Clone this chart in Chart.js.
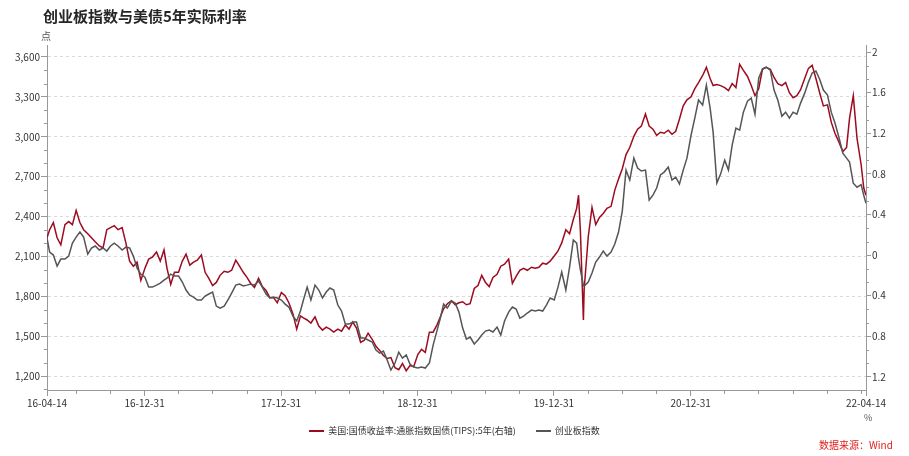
<!DOCTYPE html>
<html>
<head>
<meta charset="utf-8">
<script src="https://cdn.jsdelivr.net/npm/chart.js@4.4.1/dist/chart.umd.min.js"></script>
<style>
  html, body { margin: 0; padding: 0; background: #fff; }
  #wrap { position: relative; width: 909px; height: 456px; font-family: "Noto Sans CJK SC", sans-serif; }
  #chart { position: absolute; left: 0; top: 0; }
  .txt { position: absolute; white-space: nowrap; }
  #title { left: 43px; top: 5px; font-size: 15px; font-weight: bold; color: #262626; }
  #unitL { left: 41px; top: 28px; font-size: 10px; color: #555; }
  #unitR { left: 864px; top: 411px; font-size: 9px; color: #555; }
  #legend { left: 0; width: 909px; top: 424px; font-size: 9px; color: #333; text-align: center; padding-left: 0; }
  #legend span.sw { display: inline-block; width: 15px; height: 2px; vertical-align: middle; margin: 0 4px 1px 0; }
  #legend span.item { margin: 0 10px; }
  #source { left: 819px; top: 437px; font-size: 10px; color: #e0201c; }
</style>
</head>
<body>
<div id="wrap">
  <canvas id="chart" width="909" height="456"></canvas>
  <div class="txt" id="title">创业板指数与美债5年实际利率</div>
  <div class="txt" id="unitL">点</div>
  <div class="txt" id="unitR">%</div>
  <div class="txt" id="legend"></div>
  <div class="txt" id="source">数据来源：Wind</div>
</div>
<script>
// sampling dates (1st / 11th / 21st of each month, plus a couple around the March 2020 spike)
const dates = [
  '2016-04-14','2016-04-21','2016-05-01','2016-05-11','2016-05-21','2016-06-01','2016-06-11','2016-06-21',
  '2016-07-01','2016-07-11','2016-07-21','2016-08-01','2016-08-11','2016-08-21','2016-09-01','2016-09-11','2016-09-21',
  '2016-10-01','2016-10-11','2016-10-21','2016-11-01','2016-11-11','2016-11-21','2016-12-01','2016-12-11','2016-12-21',
  '2017-01-01','2017-01-11','2017-01-21','2017-02-01','2017-02-11','2017-02-21','2017-03-01','2017-03-11','2017-03-21',
  '2017-04-01','2017-04-11','2017-04-21','2017-05-01','2017-05-11','2017-05-21','2017-06-01','2017-06-11','2017-06-21',
  '2017-07-01','2017-07-11','2017-07-21','2017-08-01','2017-08-11','2017-08-21','2017-09-01','2017-09-11','2017-09-21',
  '2017-10-01','2017-10-11','2017-10-21','2017-11-01','2017-11-11','2017-11-21','2017-12-01','2017-12-11','2017-12-21',
  '2018-01-01','2018-01-11','2018-01-21','2018-02-01','2018-02-11','2018-02-21','2018-03-01','2018-03-11','2018-03-21',
  '2018-04-01','2018-04-11','2018-04-21','2018-05-01','2018-05-11','2018-05-21','2018-06-01','2018-06-11','2018-06-21',
  '2018-07-01','2018-07-11','2018-07-21','2018-08-01','2018-08-11','2018-08-21','2018-09-01','2018-09-11','2018-09-21',
  '2018-10-01','2018-10-11','2018-10-21','2018-11-01','2018-11-11','2018-11-21','2018-12-01','2018-12-11','2018-12-21',
  '2019-01-01','2019-01-11','2019-01-21','2019-02-01','2019-02-11','2019-02-21','2019-03-01','2019-03-11','2019-03-21',
  '2019-04-01','2019-04-11','2019-04-21','2019-05-01','2019-05-11','2019-05-21','2019-06-01','2019-06-11','2019-06-21',
  '2019-07-01','2019-07-11','2019-07-21','2019-08-01','2019-08-11','2019-08-21','2019-09-01','2019-09-11','2019-09-21',
  '2019-10-01','2019-10-11','2019-10-21','2019-11-01','2019-11-11','2019-11-21','2019-12-01','2019-12-11','2019-12-21',
  '2020-01-01','2020-01-11','2020-01-21','2020-02-01','2020-02-11','2020-02-21','2020-03-01','2020-03-06','2020-03-11',
  '2020-03-19','2020-03-21','2020-04-01','2020-04-11','2020-04-21','2020-05-01','2020-05-11','2020-05-21',
  '2020-06-01','2020-06-11','2020-06-21','2020-07-01','2020-07-11','2020-07-21','2020-08-01','2020-08-11','2020-08-21',
  '2020-09-01','2020-09-11','2020-09-21','2020-10-01','2020-10-11','2020-10-21','2020-11-01','2020-11-11','2020-11-21',
  '2020-12-01','2020-12-11','2020-12-21',
  '2021-01-01','2021-01-11','2021-01-21','2021-02-01','2021-02-11','2021-02-21','2021-03-01','2021-03-11','2021-03-21',
  '2021-04-01','2021-04-11','2021-04-21','2021-05-01','2021-05-11','2021-05-21','2021-06-01','2021-06-11','2021-06-21',
  '2021-07-01','2021-07-11','2021-07-21','2021-08-01','2021-08-11','2021-08-21','2021-09-01','2021-09-11','2021-09-21',
  '2021-10-01','2021-10-11','2021-10-21','2021-11-01','2021-11-11','2021-11-21','2021-12-01','2021-12-11','2021-12-21',
  '2022-01-01','2022-01-11','2022-01-21','2022-02-01','2022-02-11','2022-02-21','2022-03-01','2022-03-11','2022-03-21',
  '2022-04-01','2022-04-08','2022-04-14'
];

// US 5Y TIPS real yield, % (right axis, reversed)
const tipsYield = [
  -0.17,-0.25,-0.32,-0.17,-0.10,-0.30,-0.33,-0.30,
  -0.44,-0.32,-0.25,-0.21,-0.17,-0.13,-0.09,-0.07,-0.25,
  -0.27,-0.29,-0.25,-0.27,-0.12,0.06,0.11,0.07,0.25,
  0.13,0.04,0.02,-0.03,0.06,-0.05,0.13,0.29,0.17,
  0.17,0.06,-0.01,0.10,0.07,0.05,0.00,0.17,0.23,
  0.30,0.27,0.20,0.16,0.17,0.15,0.05,0.11,0.17,
  0.22,0.28,0.32,0.23,0.31,0.35,0.42,0.42,0.47,
  0.37,0.40,0.47,0.58,0.73,0.60,0.62,0.64,0.67,
  0.61,0.70,0.74,0.71,0.73,0.76,0.73,0.75,0.69,
  0.73,0.66,0.72,0.86,0.84,0.77,0.83,0.90,0.94,
  0.99,1.02,1.01,1.11,1.13,1.07,1.14,1.09,1.10,
  0.98,0.93,0.96,0.76,0.76,0.69,0.62,0.53,0.48,
  0.45,0.49,0.47,0.46,0.49,0.48,0.33,0.30,0.20,
  0.27,0.31,0.22,0.19,0.11,0.09,0.04,0.28,0.21,
  0.15,0.13,0.15,0.12,0.13,0.12,0.08,0.09,0.06,
  0.01,-0.04,-0.12,-0.25,-0.21,-0.35,-0.46,-0.59,-0.23,
  0.64,0.34,-0.18,-0.47,-0.30,-0.37,-0.41,-0.46,
  -0.48,-0.64,-0.75,-0.85,-0.99,-1.06,-1.17,-1.24,-1.27,
  -1.39,-1.27,-1.24,-1.18,-1.21,-1.20,-1.23,-1.19,-1.22,
  -1.34,-1.47,-1.53,
  -1.56,-1.64,-1.70,-1.77,-1.85,-1.74,-1.67,-1.68,-1.67,
  -1.65,-1.62,-1.69,-1.65,-1.88,-1.82,-1.76,-1.67,-1.57,
  -1.64,-1.83,-1.85,-1.83,-1.75,-1.69,-1.67,-1.70,-1.60,
  -1.55,-1.57,-1.63,-1.74,-1.84,-1.87,-1.74,-1.60,-1.47,
  -1.48,-1.31,-1.20,-1.11,-1.02,-1.06,-1.35,-1.57,-1.15,
  -0.89,-0.66,-0.59
];

// ChiNext index, points (left axis)
const chinext = [
  2240,2132,2110,2027,2080,2080,2102,2200,
  2245,2283,2245,2117,2163,2178,2148,2163,2140,
  2178,2200,2178,2148,2170,2163,2102,2012,1967,
  1944,1869,1869,1884,1899,1922,1937,1967,1952,
  1952,1907,1847,1809,1794,1772,1772,1802,1817,
  1832,1726,1711,1726,1772,1824,1884,1892,1877,
  1884,1892,1884,1914,1869,1817,1787,1794,1787,
  1772,1741,1719,1651,1614,1689,1772,1869,1772,
  1884,1847,1787,1832,1862,1847,1734,1689,1591,
  1591,1606,1606,1486,1486,1471,1456,1396,1373,
  1388,1320,1245,1298,1380,1335,1358,1290,1268,
  1260,1268,1260,1298,1433,1538,1621,1741,1711,
  1764,1749,1681,1561,1478,1493,1441,1471,1508,
  1538,1546,1531,1568,1508,1614,1681,1719,1704,
  1636,1651,1674,1696,1689,1696,1689,1734,1787,
  1772,1869,1982,1847,2020,2223,2200,2087,1997,
  1884,1877,1907,1975,2057,2095,2140,2102,
  2132,2193,2283,2441,2749,2674,2839,2764,2742,
  2749,2524,2561,2614,2712,2734,2772,2674,2696,
  2644,2749,2839,
  3012,3140,3276,3238,3388,3215,3035,2651,2719,
  2824,2749,2937,3065,3050,3185,3268,3291,3170,
  3441,3509,3524,3501,3351,3276,3155,3185,3140,
  3185,3170,3253,3328,3411,3479,3494,3433,3351,
  3313,3185,3103,2990,2877,2839,2809,2650,2620,
  2640,2560,2500
];

const leftTicks = [1200, 1500, 1800, 2100, 2400, 2700, 3000, 3300, 3600];
const rightTicks = [-2, -1.6, -1.2, -0.8, -0.4, 0, 0.4, 0.8, 1.2];
const xLabelDates = ['2016-04-14', '2016-12-31', '2017-12-31', '2018-12-31', '2019-12-31', '2020-12-31', '2022-04-14'];
const xMinorDates = [
  '2016-06-30', '2016-09-30', '2017-03-31', '2017-06-30', '2017-09-30',
  '2018-03-31', '2018-06-30', '2018-09-30', '2019-03-31', '2019-06-30', '2019-09-30',
  '2020-03-31', '2020-06-30', '2020-09-30', '2021-03-31', '2021-06-30', '2021-09-30',
  '2021-12-31', '2022-03-31'
];
const seriesNames = ['美国:国债收益率:通胀指数国债(TIPS):5年(右轴)', '创业板指数'];
const seriesColors = ['#9c0b1f', '#555555'];

const START = Date.parse(dates[0]);
function dayIdx(s) { return (Date.parse(s) - START) / 86400000; }
function fmtDate(v) {
  const d = new Date(START + Math.round(v) * 86400000);
  const p = n => String(n).padStart(2, '0');
  return p(d.getUTCFullYear() % 100) + '-' + p(d.getUTCMonth() + 1) + '-' + p(d.getUTCDate());
}

const minorTicks = {
  id: 'minorTicks',
  afterDraw(chart) {
    const { ctx, chartArea, scales } = chart;
    ctx.save();
    ctx.strokeStyle = '#999';
    ctx.lineWidth = 1;
    ctx.beginPath();
    xMinorDates.forEach(d => {
      const x = Math.round(scales.x.getPixelForValue(dayIdx(d))) + 0.5;
      ctx.moveTo(x, chartArea.bottom);
      ctx.lineTo(x, chartArea.bottom + 4);
    });
    const ls = scales.y;
    for (let i = 0; i < leftTicks.length; i++) {
      [-1, 1, 2].forEach(j => {
        if (j === -1 && i > 0) return;
        const v = leftTicks[i] + j * 100;
        if (v < ls.min || v > ls.max) return;
        const y = Math.round(ls.getPixelForValue(v)) + 0.5;
        ctx.moveTo(chartArea.left - 3, y);
        ctx.lineTo(chartArea.left, y);
      });
    }
    const rs = scales.y1;
    const step = 0.4 / 3;
    for (let i = 0; i < rightTicks.length; i++) {
      [1, 2].forEach(j => {
        const v = rightTicks[i] + j * step;
        if (v < rs.min || v > rs.max) return;
        const y = Math.round(rs.getPixelForValue(v)) + 0.5;
        ctx.moveTo(chartArea.right, y);
        ctx.lineTo(chartArea.right + 3, y);
      });
    }
    ctx.stroke();
    ctx.restore();
  }
};

Chart.defaults.font.family = '"Noto Sans CJK SC", sans-serif';
Chart.defaults.color = '#333';

new Chart(document.getElementById('chart'), {
  type: 'line',
  data: {
    datasets: [
      {
        label: seriesNames[0],
        data: dates.map((d, i) => ({ x: dayIdx(d), y: tipsYield[i] })),
        yAxisID: 'y1',
        borderColor: seriesColors[0],
        backgroundColor: seriesColors[0],
        borderWidth: 1.5,
        pointRadius: 0,
        tension: 0,
        order: 2
      },
      {
        label: seriesNames[1],
        data: dates.map((d, i) => ({ x: dayIdx(d), y: chinext[i] })),
        yAxisID: 'y',
        borderColor: seriesColors[1],
        backgroundColor: seriesColors[1],
        borderWidth: 1.5,
        pointRadius: 0,
        tension: 0,
        order: 1
      }
    ]
  },
  options: {
    responsive: false,
    animation: false,
    layout: { padding: { top: 45, left: 0, right: 0, bottom: 0 } },
    plugins: { legend: { display: false }, tooltip: { enabled: false } },
    scales: {
      x: {
        type: 'linear',
        min: 0,
        max: dayIdx('2022-04-14'),
        afterBuildTicks: s => { s.ticks = xLabelDates.map(d => ({ value: dayIdx(d) })); },
        afterFit: s => { s.height = 66; },
        ticks: { callback: v => fmtDate(v), autoSkip: false, maxRotation: 0, font: { size: 10 }, color: '#333', padding: 1 },
        grid: { drawOnChartArea: false, tickLength: 6, tickColor: '#999' },
        border: { color: '#999' }
      },
      y: {
        type: 'linear',
        position: 'left',
        min: 1095,
        max: 3690,
        afterBuildTicks: s => { s.ticks = leftTicks.map(v => ({ value: v })); },
        afterFit: s => { s.width = 47; },
        ticks: { callback: v => v.toLocaleString('en-US'), font: { size: 10 }, color: '#333', padding: 1 },
        grid: { color: '#dadada', tickColor: '#999', tickLength: 6 },
        border: { color: '#999', dash: [3, 3] }
      },
      y1: {
        type: 'linear',
        position: 'right',
        reverse: true,
        min: -2.07,
        max: 1.33,
        afterBuildTicks: s => { s.ticks = rightTicks.map(v => ({ value: v })); },
        afterFit: s => { s.width = 43; },
        ticks: { callback: v => String(Math.abs(Math.round(v * 10) / 10)), font: { size: 10 }, color: '#333', padding: 1 },
        grid: { drawOnChartArea: false, tickColor: '#999', tickLength: 5 },
        border: { color: '#999' }
      }
    }
  },
  plugins: [minorTicks]
});

document.getElementById('legend').innerHTML = seriesNames.map((n, i) =>
  '<span class="item"><span class="sw" style="background:' + seriesColors[i] + '"></span>' + n + '</span>'
).join('');
</script>
</body>
</html>
